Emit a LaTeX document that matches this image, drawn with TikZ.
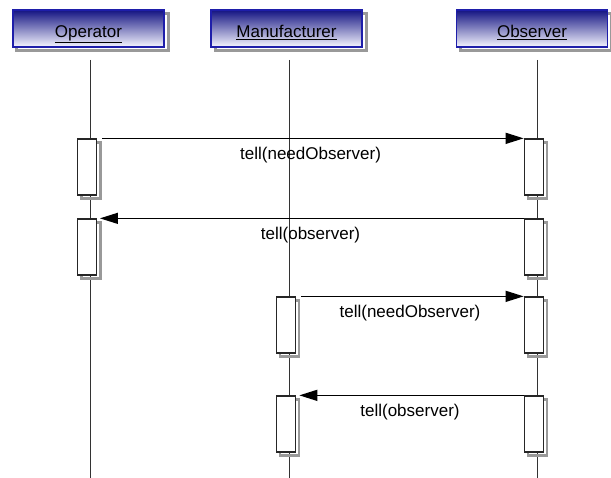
\documentclass[tikz,border=0pt]{standalone}
\usepackage{fontspec}
\setmainfont{Liberation Sans}
\usetikzlibrary{arrows.meta,shadows}
\definecolor{hdrtop}{RGB}{20,20,130}
\definecolor{hdrmid}{RGB}{150,150,205}
\definecolor{hdrbot}{RGB}{245,245,255}
\definecolor{hdrline}{RGB}{30,30,170}
\begin{document}
\begin{tikzpicture}[x=1bp,y=-1bp,
  font=\fontsize{17bp}{20bp}\selectfont,
  header/.style={draw=hdrline, line width=1.2bp, minimum width=151bp, minimum height=37bp,
    inner sep=0pt, text height=18bp, text depth=0bp,
    top color=hdrtop, middle color=hdrmid, bottom color=hdrbot,
    general shadow={draw=black!40, line width=3bp, shadow xshift=4bp, shadow yshift=-4bp}},
  act/.style={draw=black!85, line width=1.3bp, fill=white, minimum width=19bp, minimum height=56bp,
    inner sep=0pt, general shadow={draw=black!40, line width=2.5bp, shadow xshift=3.5bp, shadow yshift=-3.5bp}},
  life/.style={draw=black!80, line width=1bp},
  msg/.style={-{Triangle[length=18bp,width=11bp]}, line width=1.3bp},
  lbl/.style={midway, yshift=-16.5bp, inner sep=0pt}]
\useasboundingbox (0,0) rectangle (611,478);

% headers
\node[header] (hop) at (88.5,28.5) {\underline{Operator}};
\node[header] (hmf) at (286.5,28.5) {\underline{Manufacturer}};
\node[header] (hob) at (532,28.5) {\underline{Observer}};

% lifelines
\coordinate (opT) at (90.5,60); \coordinate (opB) at (90.5,478);
\coordinate (mfT) at (289.5,60); \coordinate (mfB) at (289.5,478);
\coordinate (obT) at (537,60); \coordinate (obB) at (537,478);
\draw[life] (opT) -- (opB);
\draw[life] (mfT) -- (mfB);
\draw[life] (obT) -- (obB);

% activation boxes
\node[act] (op1) at (87.3,167) {};
\node[act] (op2) at (87.3,247) {};
\node[act] (mf1) at (286.2,325) {};
\node[act] (mf2) at (286.2,424) {};
\node[act] (ob1) at (533.8,167) {};
\node[act] (ob2) at (533.8,247) {};
\node[act] (ob3) at (533.8,325) {};
\node[act] (ob4) at (533.8,424) {};

% messages
\draw[msg, shorten <=5bp] (op1.north east) -- (ob1.north west) node[lbl] {tell(needObserver)};
\draw[msg, shorten >=2.5bp] (ob2.north west) -- (op2.north east) node[lbl] {tell(observer)};
\draw[msg, shorten <=5bp] (mf1.north east) -- (ob3.north west) node[lbl] {tell(needObserver)};
\draw[msg, shorten >=3bp] (ob4.north west) -- (mf2.north east) node[lbl] {tell(observer)};
\end{tikzpicture}
\end{document}
